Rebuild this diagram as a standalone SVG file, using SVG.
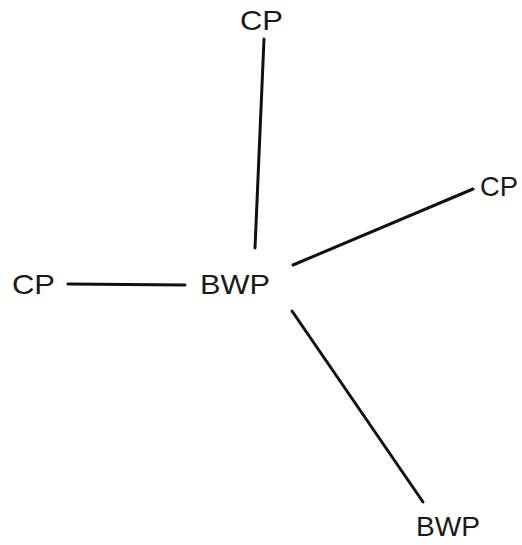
<svg xmlns="http://www.w3.org/2000/svg" width="522" height="545" viewBox="0 0 522 545">
<style>
text{font-family:"Liberation Sans",Arial,sans-serif;font-size:28px;fill:#1a1a1a}
.c line{stroke:#111;stroke-width:3;stroke-linecap:round}
</style>
<rect width="522" height="545" fill="#fff"/>
<g class="c" id="connectors">
<line x1="264" y1="39" x2="255" y2="248"/>
<line x1="293" y1="265" x2="473" y2="189"/>
<line x1="68" y1="284" x2="185" y2="285"/>
<line x1="292" y1="311" x2="423" y2="502"/>
</g>
<g id="cp-top"><text x="240" y="30" textLength="43" lengthAdjust="spacingAndGlyphs">CP</text></g>
<g id="cp-right"><text x="480" y="196" textLength="38" lengthAdjust="spacingAndGlyphs">CP</text></g>
<g id="cp-left"><text x="12" y="294" textLength="43" lengthAdjust="spacingAndGlyphs">CP</text></g>
<g id="bwp-center"><text x="200" y="294" textLength="70" lengthAdjust="spacingAndGlyphs">BWP</text></g>
<g id="bwp-bottom"><text x="416" y="536" textLength="64" lengthAdjust="spacingAndGlyphs">BWP</text></g>
</svg>
